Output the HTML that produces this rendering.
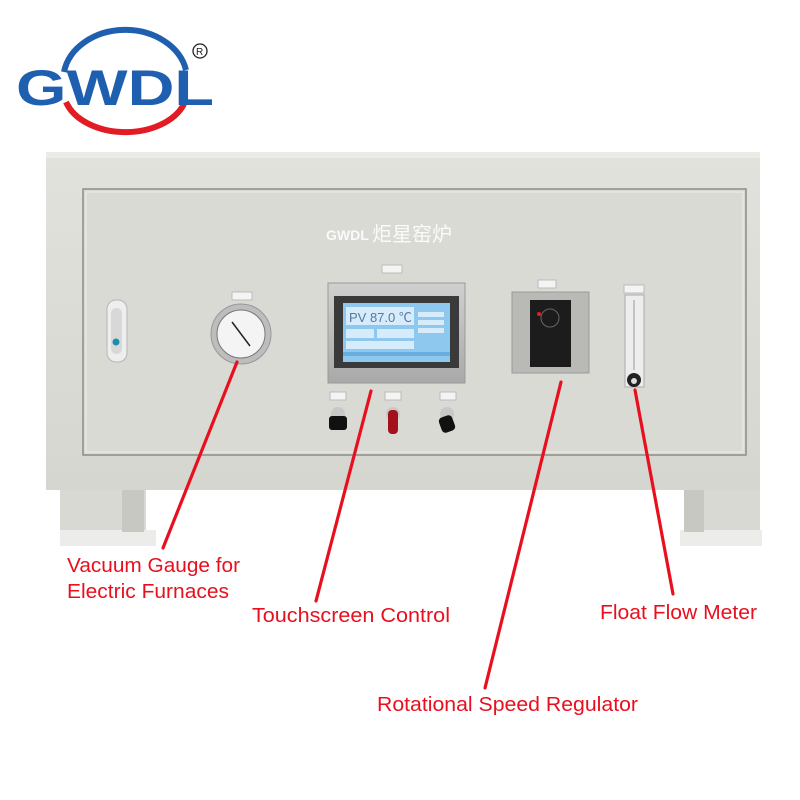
<!DOCTYPE html>
<html><head><meta charset="utf-8"><style>
html,body{margin:0;padding:0;background:#fff}
svg{display:block}
text{font-family:"Liberation Sans","Noto Sans CJK SC",sans-serif}
</style></head><body>
<svg width="800" height="800" viewBox="0 0 800 800" xmlns="http://www.w3.org/2000/svg">
<defs>
<linearGradient id="cab" x1="0" y1="0" x2="0" y2="1"><stop offset="0" stop-color="#e2e2dd"/><stop offset="1" stop-color="#d6d6d0"/></linearGradient>
<linearGradient id="bez" x1="0" y1="0" x2="0" y2="1"><stop offset="0" stop-color="#d0d0d0"/><stop offset="1" stop-color="#a9a9a9"/></linearGradient>
</defs>
<!-- logo -->
<path d="M64 72 A62 50 0 0 1 186 70" fill="none" stroke="#1f5fb0" stroke-width="6"/>
<path d="M66 102 A62 42 0 0 0 184 104" fill="none" stroke="#e21c25" stroke-width="6"/>
<text x="16" y="105" font-size="50" font-weight="bold" fill="#1f5fb0" textLength="198" lengthAdjust="spacingAndGlyphs">GWDL</text>
<circle cx="200" cy="51" r="7" fill="none" stroke="#222" stroke-width="1.3"/>
<text x="196" y="55" font-size="10" fill="#222">R</text>
<!-- legs -->
<rect x="60" y="482" width="86" height="62" fill="#d9d9d4"/>
<rect x="60" y="530" width="96" height="16" fill="#ececea"/>
<rect x="122" y="482" width="22" height="50" fill="#c8c8c2"/>
<rect x="684" y="482" width="76" height="62" fill="#d9d9d4"/>
<rect x="680" y="530" width="82" height="16" fill="#ececea"/>
<rect x="684" y="482" width="20" height="50" fill="#c8c8c2"/>
<!-- cabinet -->
<rect x="46" y="152" width="714" height="338" fill="url(#cab)"/>
<rect x="46" y="152" width="714" height="6" fill="#ebebe7"/>
<rect x="83" y="189" width="663" height="266" fill="#dadad4" stroke="#8c8c88" stroke-width="1.5"/>
<rect x="86" y="192" width="657" height="260" fill="none" stroke="#eeeeea" stroke-width="1"/>
<!-- brand -->
<text x="326" y="240" font-size="14" font-weight="bold" fill="#fafafa">GWDL</text>
<text x="372" y="241" font-size="20" fill="#fafafa">炬星窑炉</text>
<!-- handle -->
<rect x="107" y="300" width="20" height="62" rx="9" fill="#eeeeee" stroke="#b5b5b5"/>
<rect x="111" y="308" width="11" height="46" rx="5" fill="#d8d8d8"/>
<circle cx="116" cy="342" r="3.5" fill="#1a8fb0"/>
<!-- gauge -->
<rect x="232" y="292" width="20" height="8" fill="#f4f4f4" stroke="#bbb"/>
<circle cx="241" cy="334" r="30" fill="#bdbdbd" stroke="#999"/>
<circle cx="241" cy="334" r="24" fill="#f4f4f4" stroke="#777"/>
<line x1="232" y1="322" x2="250" y2="346" stroke="#222" stroke-width="1.5"/>
<!-- screen -->
<rect x="382" y="265" width="20" height="8" fill="#f4f4f4" stroke="#bbb"/>
<rect x="328" y="283" width="137" height="100" fill="url(#bez)" stroke="#999"/>
<rect x="334" y="296" width="125" height="72" fill="#3a3a3a"/>
<rect x="343" y="303" width="107" height="59" fill="#8ec8ee"/>
<rect x="346" y="307" width="68" height="18" fill="#d6ecfa"/>
<text x="349" y="322" font-size="13" fill="#5577aa">PV 87.0 ℃</text>
<rect x="418" y="312" width="26" height="5" fill="#d6ecfa"/>
<rect x="418" y="320" width="26" height="5" fill="#d6ecfa"/>
<rect x="418" y="328" width="26" height="5" fill="#d6ecfa"/>
<rect x="346" y="329" width="28" height="9" fill="#d6ecfa"/>
<rect x="377" y="329" width="37" height="9" fill="#d6ecfa"/>
<rect x="346" y="341" width="68" height="8" fill="#d6ecfa"/>
<rect x="343" y="352" width="107" height="4" fill="#6aaee0"/>
<!-- switches -->
<g fill="#f4f4f4" stroke="#bbb"><rect x="330" y="392" width="16" height="8"/><rect x="385" y="392" width="16" height="8"/><rect x="440" y="392" width="16" height="8"/></g>
<circle cx="338" cy="414" r="7" fill="#c8c8c8"/><rect x="329" y="416" width="18" height="14" rx="3" fill="#111"/>
<circle cx="393" cy="414" r="7" fill="#c8c8c8"/><rect x="388" y="410" width="10" height="24" rx="4" fill="#a3111c"/>
<circle cx="447" cy="414" r="7" fill="#c8c8c8"/><rect x="440" y="416" width="14" height="16" rx="4" fill="#111" transform="rotate(-20 447 424)"/>
<!-- regulator -->
<rect x="538" y="280" width="18" height="8" fill="#f4f4f4" stroke="#bbb"/>
<rect x="512" y="292" width="77" height="81" fill="#b9b9b5" stroke="#999"/>
<rect x="530" y="300" width="41" height="67" fill="#1c1c1c"/>
<circle cx="550" cy="318" r="9" fill="none" stroke="#666"/>
<circle cx="539" cy="314" r="2" fill="#d22"/>
<!-- flow meter -->
<rect x="624" y="285" width="20" height="8" fill="#f4f4f4" stroke="#bbb"/>
<rect x="625" y="295" width="19" height="92" fill="#ededed" stroke="#aaa"/>
<line x1="634" y1="300" x2="634" y2="370" stroke="#999"/>
<circle cx="634" cy="380" r="7" fill="#222"/>
<circle cx="634" cy="381" r="3" fill="#ddd"/>
<!-- lines -->
<g stroke="#e8101e" stroke-width="3.2" stroke-linecap="round">
<line x1="237" y1="362" x2="163" y2="548"/>
<line x1="371" y1="391" x2="316" y2="601"/>
<line x1="561" y1="382" x2="485" y2="688"/>
<line x1="635" y1="390" x2="673" y2="594"/>
</g>
<g fill="#e8101e" font-size="20">
<text x="67" y="572" textLength="173" lengthAdjust="spacingAndGlyphs">Vacuum Gauge for</text>
<text x="67" y="598" textLength="162" lengthAdjust="spacingAndGlyphs">Electric Furnaces</text>
<text x="252" y="622" textLength="198" lengthAdjust="spacingAndGlyphs">Touchscreen Control</text>
<text x="600" y="619" textLength="157" lengthAdjust="spacingAndGlyphs">Float Flow Meter</text>
<text x="377" y="711" textLength="261" lengthAdjust="spacingAndGlyphs">Rotational Speed Regulator</text>
</g>
</svg>
</body></html>
